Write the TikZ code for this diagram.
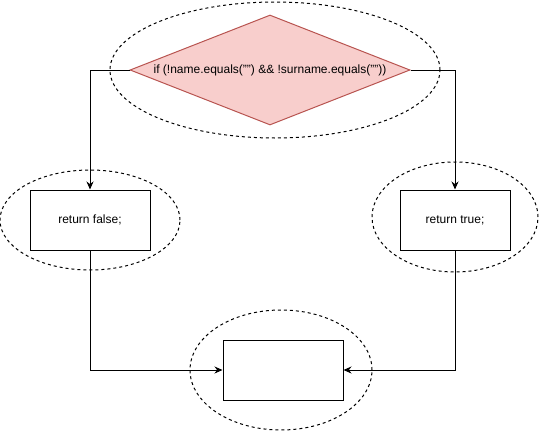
\documentclass[tikz,border=0pt]{standalone}
\usepackage{fontspec}
\setmainfont{Liberation Sans}
\usetikzlibrary{shapes.geometric,arrows.meta}
\definecolor{condfill}{HTML}{F8CECC}
\definecolor{condline}{HTML}{B85450}

\begin{document}
\begin{tikzpicture}[x=1pt,y=-1pt,line width=1pt,
    >={Stealth[length=8pt,width=7pt]},
    font=\fontsize{12}{14}\selectfont,
    block/.style={draw,rectangle,minimum height=60pt,inner sep=0pt},
    ring/.style={draw,ellipse,dashed,inner sep=0pt}]
    \useasboundingbox (0,0) rectangle (541,431);

    %rings
    \node[ring,minimum width=330pt,minimum height=136pt] (ringcond) at (275,70) {};
    \node[ring,minimum width=180pt,minimum height=100pt] (ringfalse) at (90,220) {};
    \node[ring,minimum width=166pt,minimum height=110pt] (ringtrue) at (455,217) {};
    \node[ring,minimum width=182pt,minimum height=120pt] (ringend) at (281,370) {};

    %blocks
    \node[diamond,draw=condline,fill=condfill,aspect=2.545,inner sep=0pt,
        minimum width=280pt,minimum height=110pt] (cond) at (270,70)
        {if (!name.equals("") \&\& !surname.equals(""))};
    \node[block,minimum width=120pt] (retfalse) at (90,220) {return false;};
    \node[block,minimum width=110pt] (rettrue) at (455,220) {return true;};
    \node[block,minimum width=120pt] (endblk) at (283,370) {};

    %arrows
    \draw[->] (cond.west) -| (retfalse.north);
    \draw[->] (cond.east) -| (rettrue.north);
    \draw[->] (retfalse.south) |- (endblk.west);
    \draw[->] (rettrue.south) |- (endblk.east);
\end{tikzpicture}
\end{document}
